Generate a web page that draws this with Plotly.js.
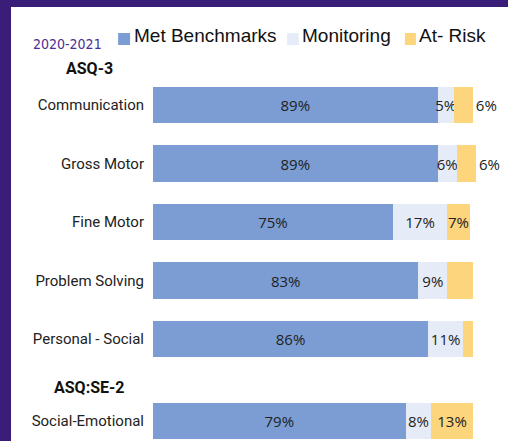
<!DOCTYPE html>
<html>
<head>
<meta charset="utf-8">
<script src="https://cdn.plot.ly/plotly-3.0.1.min.js"></script>
<style>
  html, body { margin: 0; padding: 0; background: #3a1d78; width: 508px; height: 441px; overflow: hidden; }
  #chart { position: absolute; left: 11px; top: 7px; width: 497px; height: 434px; background: #ffffff; }
</style>
</head>
<body>
<div id="chart"></div>
<script>
// ---- data ----
const periodLabel = '2020-2021';
const groupA = 'ASQ-3';
const groupB = 'ASQ:SE-2';
const categoriesA = ['Communication', 'Gross Motor', 'Fine Motor', 'Problem Solving', 'Personal - Social'];
const categoriesB = ['Social-Emotional'];
const seriesNames = ['Met Benchmarks', 'Monitoring', 'At- Risk'];
const seriesColors = ['#7b9dd3', '#e6ecf7', '#fdd57d'];
const metA = [89, 89, 75, 83, 86];
const monitoringA = [5, 6, 17, 9, 11];
const atRiskA = [6, 6, 7, 8, 3];
const metB = [79];
const monitoringB = [8];
const atRiskB = [13];
// where the at-risk labels appear in the original (some are not shown)
const atRiskLabelA = ['outside', 'outside', 'inside', 'none', 'none'];
const atRiskLabelB = ['inside'];

// ---- traces ----
const textFont = { family: 'Open Sans, Noto Sans, sans-serif', size: 15, color: '#222222' };
function mk(vals, cats, idx, xa, ya, tpos) {
  return {
    type: 'bar', orientation: 'h',
    x: vals, y: cats, name: seriesNames[idx],
    xaxis: xa, yaxis: ya,
    marker: { color: seriesColors[idx], line: { width: 0 } },
    texttemplate: '%{x}%',
    textposition: tpos,
    textangle: 0,
    insidetextanchor: 'middle',
    constraintext: 'none',
    cliponaxis: false,
    textfont: textFont, insidetextfont: textFont, outsidetextfont: textFont,
    showlegend: false,
    hoverinfo: 'skip'
  };
}
const data = [
  mk(metA, categoriesA, 0, 'x', 'y', 'inside'),
  mk(monitoringA, categoriesA, 1, 'x', 'y', 'inside'),
  mk(atRiskA, categoriesA, 2, 'x', 'y', atRiskLabelA),
  mk(metB, categoriesB, 0, 'x2', 'y2', 'inside'),
  mk(monitoringB, categoriesB, 1, 'x2', 'y2', 'inside'),
  mk(atRiskB, categoriesB, 2, 'x2', 'y2', atRiskLabelB)
];

// ---- custom legend (swatch + text) ----
const legendSwatchX = [[-0.108, -0.071], [0.415, 0.451], [0.78, 0.814]];
const legendTextX = [-0.065, 0.455, 0.817];
const shapes = seriesNames.map((n, i) => ({
  type: 'rect', xref: 'paper', yref: 'paper',
  x0: legendSwatchX[i][0], x1: legendSwatchX[i][1], y0: 0.9124, y1: 0.9401,
  fillcolor: seriesColors[i], line: { width: 0 }
}));
const annotations = seriesNames.map((n, i) => ({
  xref: 'paper', yref: 'paper', x: legendTextX[i], y: 0.9332,
  xanchor: 'left', yanchor: 'middle', showarrow: false, text: n,
  font: { family: 'Liberation Sans, Arial, sans-serif', size: 19, color: '#111111' }
}));
annotations.push(
  { xref: 'paper', yref: 'paper', x: -0.266, y: 0.9147, xanchor: 'center', yanchor: 'middle',
    showarrow: false, text: periodLabel,
    font: { family: 'DejaVu Sans Condensed, DejaVu Sans, sans-serif', size: 14, color: '#4b2e93' } },
  { xref: 'paper', yref: 'paper', x: -0.198, y: 0.8594, xanchor: 'center', yanchor: 'middle',
    showarrow: false, text: '<b>' + groupA + '</b>',
    font: { family: 'Roboto, Liberation Sans, sans-serif', size: 16, color: '#111111' } },
  { xref: 'paper', yref: 'paper', x: -0.198, y: 0.1244, xanchor: 'center', yanchor: 'middle',
    showarrow: false, text: '<b>' + groupB + '</b>',
    font: { family: 'Roboto, Liberation Sans, sans-serif', size: 16, color: '#111111' } }
);

const yCommon = {
  type: 'category', showgrid: false, zeroline: false, showline: false, ticks: '',
  tickfont: { family: 'Roboto, Liberation Sans, sans-serif', size: 15, color: '#222222' },
  ticklabelstandoff: 8, fixedrange: true
};
const layout = {
  width: 497, height: 434,
  margin: { l: 142, r: 31.8, t: 0, b: 0 },
  paper_bgcolor: '#ffffff', plot_bgcolor: '#ffffff',
  barmode: 'stack', bargap: 0.368,
  showlegend: false,
  xaxis: { range: [0, 101], visible: false, domain: [0, 1], anchor: 'y', fixedrange: true },
  xaxis2: { range: [0, 101], visible: false, domain: [0, 1], anchor: 'y2', fixedrange: true },
  yaxis: Object.assign({}, yCommon, { domain: [0.1676, 0.8416], categoryarray: categoriesA, categoryorder: 'array', range: [4.5, -0.5], anchor: 'x' }),
  yaxis2: Object.assign({}, yCommon, { domain: [0, 0.1135], categoryarray: categoriesB, categoryorder: 'array', range: [-0.342, 0.5], anchor: 'x2' }),
  shapes: shapes,
  annotations: annotations,
  font: { family: 'Roboto, sans-serif' }
};
Plotly.newPlot('chart', data, layout, { staticPlot: true, displayModeBar: false });
</script>
</body>
</html>
